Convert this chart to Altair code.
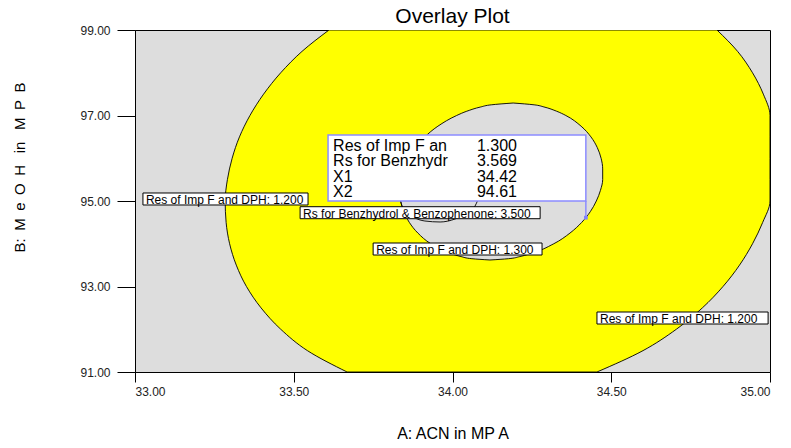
import altair as alt
import pandas as pd

FONT = "Liberation Sans"

x_ticks = [33.0, 33.5, 34.0, 34.5, 35.0]
y_ticks = [91.0, 93.0, 95.0, 97.0, 99.0]

# Res of Imp F and DPH = 1.200 contour (outer edge of the yellow zone), read row by row:
# for each B value, the left and right branch of the contour (clipped to the plot)
outer_y = [99.0, 98.5, 98.0, 97.5, 97.0, 96.5, 96.0, 95.5, 95.0, 94.5, 94.0, 93.5, 93.0,
           92.5, 92.0, 91.5, 91.0]
outer_left = [33.611, 33.526, 33.459, 33.405, 33.362, 33.329, 33.306, 33.291, 33.284, 33.287,
              33.298, 33.319, 33.351, 33.397, 33.459, 33.543, 33.668]
outer_right = [34.833, 34.898, 34.945, 34.979, 35.0, 35.0, 35.0, 35.0, 35.0, 34.977,
               34.945, 34.904, 34.852, 34.787, 34.705, 34.600, 34.455]

# Res of Imp F and DPH = 1.300 contour (inner hole)
inner_y = [97.292, 97.25, 97.2, 97.1, 97.0, 96.75, 96.5, 96.25, 96.0, 95.75, 95.5, 95.25,
           95.0, 94.75, 94.5, 94.25, 94.0, 93.75, 93.7, 93.65, 93.62]
inner_left = [34.191, 34.122, 34.089, 34.045, 34.013, 33.954, 33.913, 33.884, 33.862, 33.847,
              33.838, 33.835, 33.837, 33.847, 33.864, 33.891, 33.932, 34.003, 34.027, 34.061,
              34.118]
inner_right = [34.191, 34.257, 34.288, 34.328, 34.357, 34.405, 34.436, 34.456, 34.468, 34.473,
               34.473, 34.466, 34.453, 34.434, 34.407, 34.370, 34.319, 34.238, 34.212, 34.176,
               34.118]

# Rs for Benzhydrol & Benzophenone = 3.500 contour (visible part)
rs_x = [33.835, 33.847, 33.876, 33.913, 33.961, 34.008, 34.046, 34.071, 34.080]
rs_y = [95.023, 94.789, 94.626, 94.532, 94.509, 94.579, 94.719, 94.883, 95.023]

# contour labels
label_text = ["Res of Imp F and DPH: 1.200",
              "Rs for Benzhydrol & Benzophenone: 3.500",
              "Res of Imp F and DPH: 1.300",
              "Res of Imp F and DPH: 1.200"]
label_x0 = [33.025, 33.520, 33.750, 34.455]
label_x1 = [33.545, 34.276, 34.282, 34.994]
label_y = [95.047, 94.726, 93.877, 92.263]

# flagged point
flag_names = ["Res of Imp F an", "Rs for Benzhydr", "X1", "X2"]
flag_values = ["1.300", "3.569", "34.42", "94.61"]
flag_rows_y = [96.287, 95.936, 95.561, 95.211]
flag_name_x = 33.624
flag_value_x = 34.077
flag_box = {"x0": 33.608, "x1": 34.42, "top": 96.544, "bottom": 95.0}
flag_point = {"X1": 34.42, "X2": 94.61}

chart_title = "Overlay Plot"

outer_df = pd.DataFrame({"y": outer_y, "l": outer_left, "r": outer_right})
inner_df = pd.DataFrame({"y": inner_y, "l": inner_left, "r": inner_right})
rs_df = pd.DataFrame({"x": rs_x, "y": rs_y, "o": list(range(len(rs_x)))})
lab_df = pd.DataFrame({"text": label_text, "x0": label_x0, "x1": label_x1, "y": label_y})
box_df = pd.DataFrame([flag_box])
pt_df = pd.DataFrame([{"x": flag_point["X1"], "y": flag_point["X2"], "yb": flag_box["bottom"]}])
rows_df = pd.DataFrame({"name": flag_names, "value": flag_values, "y": flag_rows_y,
                        "nx": [flag_name_x] * 4, "vx": [flag_value_x] * 4})
title_df = pd.DataFrame({"t": [chart_title]})

xs = alt.Scale(domain=[33, 35], nice=False, zero=False)
ys = alt.Scale(domain=[91, 99], nice=False, zero=False)
xaxis = alt.Axis(title="A: ACN in MP A", values=x_ticks, format=".2f", grid=False,
                 tickSize=10, labelPadding=4, titleY=66, titleBaseline="alphabetic")
yaxis = alt.Axis(title="B:\u2002M\u2002e\u2002O\u2002H\u2002 in\u2002 M\u2002P\u2002B",
                 values=y_ticks, format=".2f", grid=False, tickSize=18, labelPadding=7,
                 titleX=-116, titleY=137, titleAngle=-90, titleBaseline="middle",
                 titleAlign="center")


def X(f):
    return alt.X(f, type="quantitative", scale=xs, axis=xaxis)


def Y(f):
    return alt.Y(f, type="quantitative", scale=ys, axis=yaxis)


outer = alt.Chart(outer_df).mark_area(
    color="#ffff00", stroke="black", strokeWidth=0.9, interpolate="monotone",
    orient="horizontal", clip=True
).encode(y=Y("y"), x=X("l"), x2="r")

inner = alt.Chart(inner_df).mark_area(
    color="#dddddd", stroke="black", strokeWidth=0.9, interpolate="monotone",
    orient="horizontal"
).encode(y=Y("y"), x=X("l"), x2="r")

rs_line = alt.Chart(rs_df).mark_line(
    color="black", strokeWidth=0.9, interpolate="monotone"
).encode(x=X("x"), y=Y("y"), order="o:Q")

lab_box = alt.Chart(lab_df).mark_rect(
    fill="white", stroke="black", strokeWidth=1, yOffset=-6, y2Offset=6
).encode(x=X("x0"), x2="x1", y=Y("y"), y2="y")

lab_txt = alt.Chart(lab_df).mark_text(
    align="left", baseline="middle", dx=3, dy=1, fontSize=12, font=FONT, color="black"
).encode(x=X("x0"), y=Y("y"), text="text:N")

fbox = alt.Chart(box_df).mark_rect(
    fill="white", stroke="#8c8cff", strokeWidth=1.5
).encode(x=X("x0"), x2="x1", y=Y("top"), y2="bottom")

fline = alt.Chart(pt_df).mark_rule(color="#8c8cff", strokeWidth=1.5).encode(
    x=X("x"), y=Y("yb"), y2="y")

fpt = alt.Chart(pt_df).mark_square(color="#8080ff", size=14, opacity=1).encode(
    x=X("x"), y=Y("y"))

fnames = alt.Chart(rows_df).mark_text(
    align="left", baseline="middle", fontSize=16, font=FONT, color="black"
).encode(x=X("nx"), y=Y("y"), text="name:N")

fvalues = alt.Chart(rows_df).mark_text(
    align="left", baseline="middle", fontSize=16, font=FONT, color="black"
).encode(x=X("vx"), y=Y("y"), text="value:N")

title_mark = alt.Chart(title_df).mark_text(
    align="center", baseline="alphabetic", fontSize=21, font=FONT, color="black"
).encode(x=alt.value(317.5), y=alt.value(-7), text="t:N")

chart = alt.layer(
    outer, inner, rs_line, lab_box, lab_txt, fbox, fline, fpt, fnames, fvalues, title_mark
).properties(
    width=635, height=342,
    autosize="none",
    padding={"left": 127, "top": 22, "right": 13, "bottom": 68},
).configure_view(
    fill="#dddddd", stroke="black", strokeWidth=1
).configure_axis(
    domainColor="black", tickColor="black", labelColor="#222222", labelFont=FONT,
    labelFontSize=12, titleFont=FONT, titleFontSize=16, titleFontWeight="normal",
    titleColor="black"
).configure_axisY(titleFontSize=15)

chart.save("out.html", embed_options={"renderer": "svg", "actions": False})
